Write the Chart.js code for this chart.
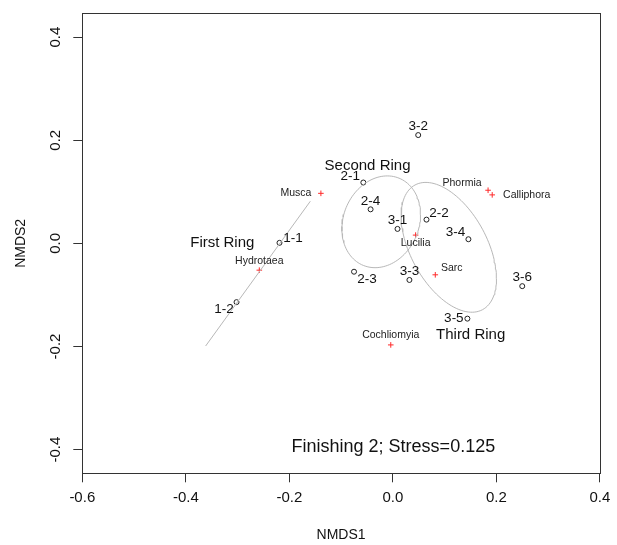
<!DOCTYPE html>
<html>
<head>
<meta charset="utf-8">
<script src="https://cdn.jsdelivr.net/npm/chart.js@4.4.1/dist/chart.umd.min.js"></script>
<style>
  html, body { margin: 0; padding: 0; background: #ffffff; }
  canvas { display: block; }
</style>
</head>
<body>
<canvas id="c" width="617" height="545"></canvas>
<script>
// ---------------- DATA ----------------
const xTicks = [-0.6, -0.4, -0.2, 0.0, 0.2, 0.4];
const yTicks = [-0.4, -0.2, 0.0, 0.2, 0.4];
const xRange = [-0.6, 0.4];
const yRange = [-0.446, 0.446];

// site scores (open circles)
const sampleNames = ['1-1', '1-2', '2-1', '2-2', '2-3', '2-4', '3-1', '3-2', '3-3', '3-4', '3-5', '3-6'];
const sampleX = [-0.219, -0.302, -0.057, 0.065, -0.075, -0.043, 0.009, 0.049, 0.032, 0.146, 0.144, 0.250];
const sampleY = [0.001, -0.114, 0.118, 0.046, -0.055, 0.066, 0.028, 0.210, -0.071, 0.008, -0.146, -0.083];

// species scores (red crosses)
const speciesNames = ['Musca', 'Hydrotaea', 'Lucilia', 'Phormia', 'Calliphora', 'Sarc', 'Cochliomyia'];
const speciesX = [-0.139, -0.258, 0.044, 0.184, 0.192, 0.082, -0.004];
const speciesY = [0.097, -0.052, 0.016, 0.103, 0.094, -0.061, -0.197];

// group hulls: First Ring collapses to a segment, others are ellipses
const firstRingX = [-0.3617, -0.1594];
const firstRingY = [-0.1991, 0.0817];
const ellipseCenterX = [-0.0225, 0.1081];   // Second Ring, Third Ring
const ellipseCenterY = [0.0418, -0.0077];
const ellipseHalfW = [0.0760, 0.0921];
const ellipseHalfH = [0.0890, 0.1259];
const ellipseCov = [0.00105, -0.0056];

// group labels
const ringNames = ['First Ring', 'Second Ring', 'Third Ring'];
const ringLabelX = [-0.3295, -0.0489, 0.1503];
const ringLabelY = [0.0019, 0.1511, -0.1784];

const stressText = 'Finishing 2; Stress=0.125';
const stressX = 0.001;
const stressY = -0.396;

// ---------------- STYLE (label offsets in px) ----------------
const sampleLabelOffset = {
  '1-1': [13.5, -5], '1-2': [-12.5, 7], '2-1': [-13, -6.5], '2-2': [12.5, -6.5],
  '2-3': [13, 8], '2-4': [0, -8.5], '3-1': [0, -8.5], '3-2': [0, -9],
  '3-3': [0, -9], '3-4': [-13, -6.5], '3-5': [-13.5, 0], '3-6': [0, -8.5]
};
const speciesLabelOffset = {
  'Musca': [-25, 0], 'Hydrotaea': [0, -9.5], 'Lucilia': [0, 8], 'Phormia': [-26, -7],
  'Calliphora': [34.5, 0], 'Sarc': [16.5, -6.5], 'Cochliomyia': [0, -9.5]
};
const FONT = '"Liberation Sans", Arial, Helvetica, sans-serif';

function ellipsePoints(i) {
  const W = ellipseHalfW[i];
  const C = ellipseCov[i] / W;
  const D = Math.sqrt(ellipseHalfH[i] * ellipseHalfH[i] - C * C);
  const pts = [];
  const n = 120;
  for (let k = 0; k <= n; k++) {
    const t = 2 * Math.PI * k / n;
    pts.push({ x: ellipseCenterX[i] + W * Math.cos(t), y: ellipseCenterY[i] + C * Math.cos(t) + D * Math.sin(t) });
  }
  return pts;
}

const hullStyle = { type: 'line', borderColor: '#b8b8b8', borderWidth: 1, pointRadius: 0, fill: false, tension: 0, showLine: true };

const datasets = [
  Object.assign({ label: 'First Ring', data: firstRingX.map((x, i) => ({ x, y: firstRingY[i] })) }, hullStyle),
  Object.assign({ label: 'Second Ring', data: ellipsePoints(0) }, hullStyle),
  Object.assign({ label: 'Third Ring', data: ellipsePoints(1) }, hullStyle),
  {
    type: 'scatter', label: 'sites',
    data: sampleX.map((x, i) => ({ x, y: sampleY[i] })),
    pointStyle: 'circle', pointRadius: 2.5, pointBorderWidth: 1,
    borderColor: '#222', backgroundColor: 'rgba(0,0,0,0)'
  },
  {
    type: 'scatter', label: 'species',
    data: speciesX.map((x, i) => ({ x, y: speciesY[i] })),
    pointStyle: 'cross', pointRadius: 2.8, pointBorderWidth: 1,
    borderColor: '#ff2a2a', backgroundColor: '#ff2a2a'
  }
];

const whiteBg = {
  id: 'whiteBg',
  beforeDraw(chart) {
    const ctx = chart.ctx;
    ctx.save(); ctx.fillStyle = '#ffffff'; ctx.fillRect(0, 0, chart.width, chart.height); ctx.restore();
  }
};

const boxAndText = {
  id: 'boxAndText',
  afterDatasetsDraw(chart) {
    const ctx = chart.ctx;
    const xs = chart.scales.x, ys = chart.scales.y;
    ctx.save();
    ctx.textAlign = 'center';
    ctx.textBaseline = 'middle';
    // sample labels
    ctx.fillStyle = '#111';
    ctx.font = '13.5px ' + FONT;
    sampleNames.forEach((n, i) => {
      const o = sampleLabelOffset[n] || [0, -8];
      ctx.fillText(n, xs.getPixelForValue(sampleX[i]) + o[0], ys.getPixelForValue(sampleY[i]) + o[1]);
    });
    // species labels
    ctx.fillStyle = '#222';
    ctx.font = '10.5px ' + FONT;
    speciesNames.forEach((n, i) => {
      const o = speciesLabelOffset[n] || [0, -9];
      ctx.fillText(n, xs.getPixelForValue(speciesX[i]) + o[0], ys.getPixelForValue(speciesY[i]) + o[1]);
    });
    // ring labels
    ctx.fillStyle = '#111';
    ctx.font = '15px ' + FONT;
    ringNames.forEach((n, i) => {
      ctx.fillText(n, xs.getPixelForValue(ringLabelX[i]), ys.getPixelForValue(ringLabelY[i]));
    });
    // stress
    ctx.font = '18px ' + FONT;
    ctx.fillText(stressText, xs.getPixelForValue(stressX), ys.getPixelForValue(stressY));
    ctx.restore();
  },
  afterDraw(chart) {
    const ctx = chart.ctx;
    const a = chart.chartArea;
    ctx.save();
    ctx.strokeStyle = '#333';
    ctx.lineWidth = 1;
    const l = Math.round(a.left) + 0.5, t = Math.round(a.top) + 0.5;
    const r = Math.round(a.right) + 0.5, b = Math.round(a.bottom) + 0.5;
    ctx.strokeRect(l, t, r - l, b - t);
    ctx.restore();
  }
};

new Chart(document.getElementById('c'), {
  type: 'scatter',
  data: { datasets },
  options: {
    responsive: false,
    devicePixelRatio: 1,
    animation: false,
    events: [],
    layout: { padding: { left: 0, right: 15.7, top: 10, bottom: 0 } },
    plugins: { legend: { display: false }, tooltip: { enabled: false } },
    scales: {
      x: {
        type: 'linear', position: 'bottom',
        min: xRange[0], max: xRange[1],
        afterBuildTicks: (s) => { s.ticks = xTicks.map(v => ({ value: v })); },
        afterFit: (s) => { s.height = 71.7; },
        border: { display: false },
        grid: { drawOnChartArea: false, drawTicks: true, tickLength: 9, color: '#333', tickColor: '#333', lineWidth: 1 },
        ticks: {
          autoSkip: false, maxRotation: 0, minRotation: 0, padding: 6.7,
          color: '#111', font: { family: FONT, size: 15 },
          callback: (v) => Number(v).toFixed(1)
        },
        title: { display: true, text: 'NMDS1', color: '#111', font: { family: FONT, size: 14 }, padding: { top: 0, bottom: 1.6 } }
      },
      y: {
        type: 'linear', position: 'left',
        min: yRange[0], max: yRange[1],
        afterBuildTicks: (s) => { s.ticks = yTicks.map(v => ({ value: v })); },
        afterFit: (s) => { s.width = 82.3; },
        border: { display: false },
        grid: { drawOnChartArea: false, drawTicks: true, tickLength: 9, color: '#333', tickColor: '#333', lineWidth: 1 },
        ticks: {
          autoSkip: false, minRotation: 90, maxRotation: 90, crossAlign: 'center', padding: 4.4,
          color: '#111', font: { family: FONT, size: 15 },
          callback: (v) => Number(v).toFixed(1)
        },
        title: { display: true, text: 'NMDS2', color: '#111', font: { family: FONT, size: 14 }, padding: { top: 12.3, bottom: 0 } }
      }
    }
  },
  plugins: [whiteBg, boxAndText]
});
</script>
</body>
</html>
